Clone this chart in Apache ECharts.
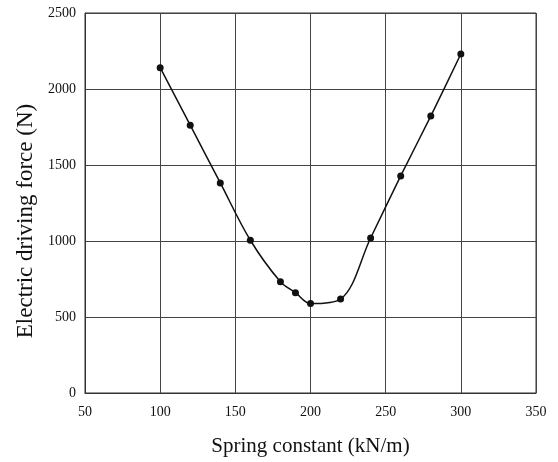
<!DOCTYPE html>
<html>
<head>
<meta charset="utf-8">
<script src="https://cdn.jsdelivr.net/npm/echarts@6/dist/echarts.min.js"></script>
<style>
  html, body { margin: 0; padding: 0; background: #fff; }
  #main { width: 558px; height: 462px; }
</style>
</head>
<body>
<div id="main"></div>
<script>
// spring constant (kN/m) vs electric driving force (N)
const springK = [100, 120, 140, 160, 180, 190, 200, 220, 240, 260, 280, 300]
const force = [2140, 1762, 1382, 1005, 732, 660, 588, 618, 1020, 1428, 1822, 2230]
const xTicks = [50, 100, 150, 200, 250, 300, 350]
const yTicks = [0, 500, 1000, 1500, 2000, 2500]

const chart = echarts.init(document.getElementById('main'))
const fontFamily = '"Liberation Serif", "DejaVu Serif", serif'
const gridLine = { show: true, lineStyle: { color: '#444', width: 1 } }

chart.setOption({
  animation: false,
  backgroundColor: '#fff',
  grid: { left: 85, right: 22, top: 13, bottom: 69, show: true, borderColor: '#333', borderWidth: 1 },
  xAxis: {
    type: 'value',
    min: xTicks[0],
    max: xTicks[xTicks.length - 1],
    interval: 50,
    name: 'Spring constant (kN/m)',
    nameLocation: 'middle',
    nameGap: 43,
    nameTextStyle: { fontFamily, fontSize: 21, color: '#111' },
    axisLine: { show: true, lineStyle: { color: '#333' } },
    axisTick: { show: false },
    axisLabel: { fontFamily, fontSize: 14, color: '#111', margin: 12, formatter: v => String(v) },
    splitLine: gridLine
  },
  yAxis: {
    type: 'value',
    min: yTicks[0],
    max: yTicks[yTicks.length - 1],
    interval: 500,
    name: 'Electric driving force (N)',
    nameLocation: 'middle',
    nameGap: 47,
    nameTextStyle: { fontFamily, fontSize: 23, color: '#111', padding: [0, 36, 0, 0] },
    axisLine: { show: true, lineStyle: { color: '#333' } },
    axisTick: { show: false },
    axisLabel: { fontFamily, fontSize: 14, color: '#111', margin: 9, formatter: v => String(v) },
    splitLine: gridLine
  },
  series: [{
    type: 'line',
    data: springK.map((k, i) => [k, force[i]]),
    smooth: 0.35,
    symbol: 'circle',
    symbolSize: 7,
    itemStyle: { color: '#111' },
    lineStyle: { color: '#111', width: 1.5 }
  }]
})
</script>
</body>
</html>
